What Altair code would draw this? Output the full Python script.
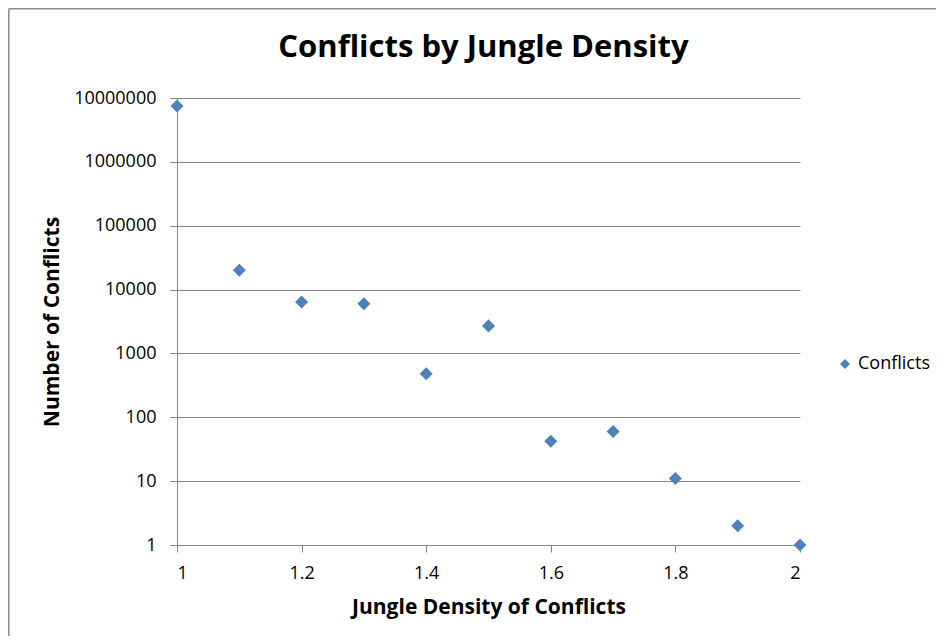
import altair as alt
import pandas as pd

density = [1.0, 1.1, 1.2, 1.3, 1.4, 1.5, 1.6, 1.7, 1.8, 1.9, 2.0]
conflicts = [7500000, 20000, 6400, 6000, 480, 2700, 42, 60, 11, 2, 1]
series = ["Conflicts"] * len(density)
y_ticks = [1, 10, 100, 1000, 10000, 100000, 1000000, 10000000]
x_ticks = [1.0, 1.2, 1.4, 1.6, 1.8, 2.0]

df = pd.DataFrame({"density": density, "conflicts": conflicts, "series": series})

FONT = "Open Sans"
W, H = 623, 447
one = pd.DataFrame({"a": [0]})

top_edge = alt.Chart(one).mark_rule(color="#8c8c8c", strokeWidth=1.5, clip=False).encode(
    x=alt.value(-168.2), x2=alt.value(W + 200), y=alt.value(-89.2)
)
left_edge = alt.Chart(one).mark_rule(color="#8c8c8c", strokeWidth=1.5, clip=False).encode(
    x=alt.value(-168.2), y=alt.value(-89.2), y2=alt.value(H + 200)
)

points = alt.Chart(df).mark_point(
    shape="diamond", filled=True, size=170, opacity=1
).encode(
    x=alt.X("density:Q",
            scale=alt.Scale(domain=[1, 2], nice=False, zero=False),
            axis=alt.Axis(values=x_ticks, format="~g", title="Jungle Density of Conflicts",
                          grid=False, domainColor="#868686", tickColor="#868686",
                          tickSize=7, labelPadding=12, titlePadding=14,
                          labelFontSize=18, titleFontSize=21, titleFontWeight="bold",
                          labelColor="#000", titleColor="#000",
                          labelFont=FONT, titleFont=FONT)),
    y=alt.Y("conflicts:Q",
            scale=alt.Scale(type="log", domain=[1, 10000000], nice=False),
            axis=alt.Axis(values=y_ticks, format="d", title="Number of Conflicts",
                          grid=True, gridColor="#868686", domainColor="#868686",
                          tickColor="#868686", tickSize=7, labelPadding=14,
                          titlePadding=11, labelFontSize=18, titleFontSize=21,
                          titleFontWeight="bold", labelColor="#000", titleColor="#000",
                          labelFont=FONT, titleFont=FONT)),
    color=alt.Color("series:N",
                    scale=alt.Scale(domain=["Conflicts"], range=["#4F81BD"]),
                    legend=alt.Legend(title=None, orient="none", legendX=659, legendY=257,
                                      symbolType="diamond", symbolSize=100,
                                      labelFont=FONT, labelFontSize=18, labelColor="#000")),
)

chart = alt.layer(top_edge, left_edge, points).properties(
    width=W, height=H,
    background="white",
    title=alt.TitleParams("Conflicts by Jungle Density", font=FONT, fontSize=31,
                          fontWeight="bold", color="#000", offset=0, dy=80, dx=-5,
                          baseline="alphabetic", anchor="middle"),
    autosize=alt.AutoSizeParams(type="none"),
    padding={"left": 169, "top": 90, "right": 136, "bottom": 91},
).configure_view(stroke=None)

chart.save("out.html", embed_options={"renderer": "svg", "actions": False})
